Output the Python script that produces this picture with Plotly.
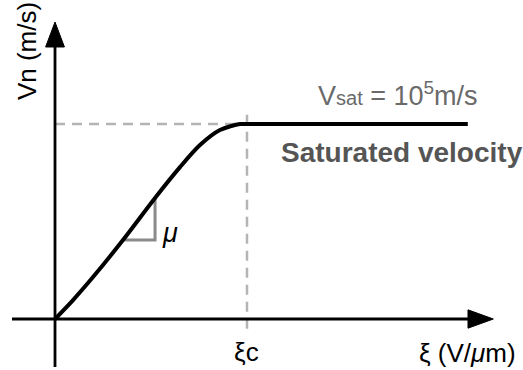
import plotly.graph_objects as go

# Drift velocity vs. electric field (normalised: xi_c = 1, v_sat = 1)
xi = [0, 0.094, 0.198, 0.354, 0.521, 0.651, 0.755, 0.859, 0.964, 1.0, 2.15]
vn = [0, 0.097, 0.215, 0.405, 0.621, 0.779, 0.892, 0.969, 1.0, 1.0, 1.0]

# Mobility slope triangle
slope_x = [0.354, 0.521, 0.521]
slope_y = [0.405, 0.405, 0.621]

xi_c = 1.0
v_sat = 1.0

FONT = "Liberation Sans, Arial, Helvetica, sans-serif"

fig = go.Figure()

# saturation guide lines
fig.add_trace(go.Scatter(x=[0, xi_c], y=[v_sat, v_sat], mode="lines",
                         line=dict(color="#b4b4b4", width=2.5, dash="10px,7px"),
                         hoverinfo="skip"))
fig.add_trace(go.Scatter(x=[xi_c, xi_c], y=[-0.05, 1.06], mode="lines",
                         line=dict(color="#b4b4b4", width=2.5, dash="10px,7px"),
                         hoverinfo="skip"))

# slope marker
fig.add_trace(go.Scatter(x=slope_x, y=slope_y, mode="lines",
                         line=dict(color="#8a8a8a", width=3),
                         hoverinfo="skip"))

# velocity curve
fig.add_trace(go.Scatter(x=xi, y=vn, mode="lines",
                         line=dict(color="black", width=4, shape="spline", smoothing=0.8),
                         hoverinfo="skip"))

shapes = [
    # x axis
    dict(type="line", xref="x", yref="y", x0=-0.224, y0=0, x1=2.16, y1=0,
         line=dict(color="black", width=2.8)),
    dict(type="path", xref="x", yref="y",
         path="M 2.151 -0.047 L 2.283 0 L 2.151 0.047 Z",
         fillcolor="black", line=dict(color="black", width=1)),
    # y axis
    dict(type="line", xref="x", yref="y", x0=0, y0=-0.246, x1=0, y1=1.40,
         line=dict(color="black", width=2.8)),
    dict(type="path", xref="x", yref="y",
         path="M -0.049 1.395 L 0 1.523 L 0.049 1.395 Z",
         fillcolor="black", line=dict(color="black", width=1)),
]

annotations = [
    dict(x=0.997, y=-0.169, text="ξc", showarrow=False,
         font=dict(family=FONT, size=26, color="black"), xanchor="center", yanchor="middle"),
    dict(x=2.411, y=-0.174, text="ξ (V/<i>μ</i>m)", showarrow=False,
         font=dict(family=FONT, size=26, color="black"), xanchor="right", yanchor="middle"),
    dict(x=-0.146, y=1.374, text="Vn (m/s)", showarrow=False, textangle=-90,
         font=dict(family=FONT, size=26, color="black"), xanchor="center", yanchor="middle"),
    dict(x=0.599, y=0.44, text="<i>μ</i>", showarrow=False,
         font=dict(family=FONT, size=27, color="black"), xanchor="center", yanchor="middle"),
    dict(x=1.789, y=1.154,
         text="V<span style='font-size:20px'>sat</span> = 10<sup>5</sup>m/s",
         showarrow=False,
         font=dict(family=FONT, size=27, color="#6a6a6a"), xanchor="center", yanchor="middle"),
    dict(x=1.805, y=0.856, text="<b>Saturated velocity</b>", showarrow=False,
         font=dict(family=FONT, size=28, color="#555555"), xanchor="center", yanchor="middle"),
]

fig.update_layout(
    width=523, height=370,
    margin=dict(l=0, r=0, t=0, b=0),
    paper_bgcolor="white", plot_bgcolor="white",
    showlegend=False,
    xaxis=dict(range=[-0.2865, 2.4375], visible=False, fixedrange=True),
    yaxis=dict(range=[-0.2615, 1.636], visible=False, fixedrange=True),
    shapes=shapes,
    annotations=annotations,
)

fig.write_html("out.html")
